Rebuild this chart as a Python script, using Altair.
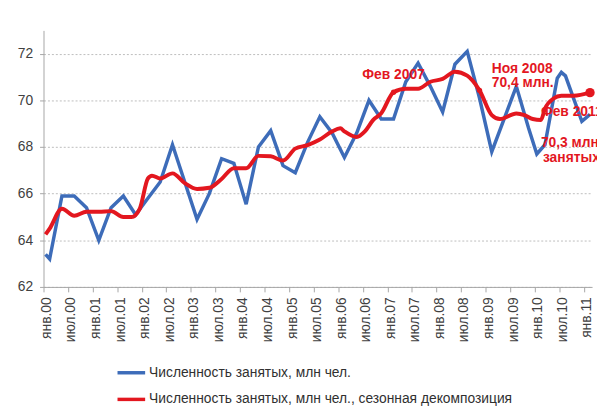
import altair as alt
import pandas as pd

# ---- data ----
blue_name = "Численность занятых, млн чел."
red_name = "Численность занятых, млн чел., сезонная декомпозиция"

blue_dates = ["2000-01", "2000-02", "2000-05", "2000-08", "2000-11",
              "2001-02", "2001-05", "2001-08", "2001-11",
              "2002-02", "2002-05", "2002-08", "2002-11",
              "2003-02", "2003-05", "2003-08", "2003-11",
              "2004-02", "2004-05", "2004-08", "2004-11",
              "2005-02", "2005-05", "2005-08", "2005-11",
              "2006-02", "2006-05", "2006-08", "2006-11",
              "2007-02", "2007-05", "2007-08", "2007-11",
              "2008-02", "2008-05", "2008-08", "2008-11",
              "2009-02", "2009-05", "2009-08", "2009-11",
              "2010-01", "2010-03", "2010-06", "2010-07", "2010-08", "2010-12",
              "2011-02"]
blue_values = [63.4, 63.2, 65.9, 65.9, 65.4,
               64.0, 65.4, 65.9, 65.1,
               65.8, 66.5, 68.1, 66.5,
               64.9, 66.0, 67.5, 67.3,
               65.55, 68.0, 68.7, 67.2,
               66.9, 68.2, 69.3, 68.6,
               67.55, 68.6, 70.0, 69.2,
               69.2, 70.8, 71.6, 70.6,
               69.5, 71.55, 72.1, 70.1,
               67.8, 69.2, 70.6, 68.8,
               67.7, 68.1, 70.95, 71.2, 71.05, 69.1,
               69.4]

red_dates = ["2000-01", "2000-02", "2000-05", "2000-08", "2000-11",
             "2001-02", "2001-05", "2001-08", "2001-10", "2001-12",
             "2002-02", "2002-03", "2002-05", "2002-08", "2002-11",
             "2003-02", "2003-05", "2003-08", "2003-11",
             "2004-02", "2004-05", "2004-08", "2004-11",
             "2005-02", "2005-05", "2005-08", "2005-11",
             "2006-01", "2006-02", "2006-05", "2006-07", "2006-09", "2006-11",
             "2007-02", "2007-05", "2007-08", "2007-11",
             "2008-02", "2008-05", "2008-08", "2008-11",
             "2009-02", "2009-04", "2009-08", "2009-10", "2009-12",
             "2010-02", "2010-03", "2010-05", "2010-07", "2010-10",
             "2011-02"]
red_values = [64.25, 64.5, 65.35, 65.05, 65.22,
              65.22, 65.25, 65.0, 65.0, 65.35,
              66.65, 66.77, 66.65, 66.87, 66.45,
              66.2, 66.25, 66.63, 67.09,
              67.09, 67.62, 67.6, 67.42,
              67.93, 68.08, 68.32, 68.67,
              68.8, 68.67, 68.43, 68.67, 69.15, 69.45,
              70.35, 70.5, 70.5, 70.8,
              70.92, 71.23, 71.06, 70.43,
              69.37, 69.2, 69.44, 69.37, 69.2,
              69.16, 69.65, 70.07, 70.2, 70.2,
              70.33]

marker_dates = ["2007-02", "2008-11"]
marker_values = [70.35, 70.43]
end_dates = ["2011-02"]
end_values = [70.33]

# centred annotation
c_texts = ["Фев 2007"]
c_month = [85.5]
c_values = [71.1]
# left-aligned annotations
l_texts = ["Ноя 2008", "70,4 млн.", "Фев 2011", "70,3 млн", "занятых"]
l_month = [109.5, 109.5, 121.5, 121.5, 122.0]
l_values = [71.34, 70.73, 69.51, 68.17, 67.53]

tick_labels = ["янв.00", "июл.00", "янв.01", "июл.01", "янв.02", "июл.02",
               "янв.03", "июл.03", "янв.04", "июл.04", "янв.05", "июл.05",
               "янв.06", "июл.06", "янв.07", "июл.07", "янв.08", "июл.08",
               "янв.09", "июл.09", "янв.10", "июл.10", "янв.11"]
y_ticks = [62, 64, 66, 68, 70, 72]

BLUE = "#3d6cb9"
RED = "#e3171f"
FONT = "Liberation Sans"


def month_index(d):
    y, m = d.split("-")
    return (int(y) - 2000) * 12 + int(m) - 1 + 0.5


blue_df = pd.DataFrame({"m": [month_index(d) for d in blue_dates],
                        "v": blue_values, "s": blue_name})
red_df = pd.DataFrame({"m": [month_index(d) for d in red_dates],
                       "v": red_values, "s": red_name})
mark_df = pd.DataFrame({"m": [month_index(d) for d in marker_dates], "v": marker_values})
end_df = pd.DataFrame({"m": [month_index(d) for d in end_dates], "v": end_values})
c_df = pd.DataFrame({"m": c_month, "v": c_values, "t": c_texts})
l_df = pd.DataFrame({"m": l_month, "v": l_values, "t": l_texts})

label_js = "[" + ",".join("'" + t + "'" for t in tick_labels) + "]"

x_enc = alt.X("m:Q",
              scale=alt.Scale(domain=[0, 134], nice=False, zero=False),
              axis=alt.Axis(values=[i * 6 for i in range(len(tick_labels))],
                            labelExpr=label_js + "[round(datum.value / 6)]",
                            labelAngle=270, labelFontSize=14, labelColor="#404040",
                            labelFont=FONT, labelPadding=5, labelOffset=3,
                            tickSize=5, tickColor="#a6a6a6", domainColor="#a6a6a6",
                            grid=False, title=None, labelOverlap=False,
                            labelFlush=False, labelBound=False))
y_enc = alt.Y("v:Q",
              scale=alt.Scale(domain=[62, 73], nice=False, zero=False),
              axis=alt.Axis(values=y_ticks, labelFontSize=14, labelColor="#404040",
                            labelFont=FONT, labelPadding=7, tickSize=4,
                            tickColor="#a6a6a6", domainColor="#a6a6a6",
                            grid=True, gridColor="#bdbdbd", gridDash=[2, 2],
                            gridWidth=1, title=None))

color_scale = alt.Scale(domain=[blue_name, red_name], range=[BLUE, RED])
legend = alt.Legend(orient="none", legendX=73, legendY=331, direction="vertical",
                    title=None, symbolType="stroke", symbolSize=784,
                    symbolStrokeWidth=3.5, labelFontSize=14, labelFont=FONT,
                    labelColor="#303030", labelLimit=700, labelOffset=2,
                    rowPadding=4)
color_enc = alt.Color("s:N", scale=color_scale, legend=legend)

blue_line = alt.Chart(blue_df).mark_line(strokeWidth=3.5).encode(
    x=x_enc, y=y_enc, color=color_enc)
red_line = alt.Chart(red_df).mark_line(strokeWidth=4, interpolate="monotone").encode(
    x=x_enc, y=y_enc, color=color_enc)
dots = alt.Chart(mark_df).mark_circle(color=RED, size=30, opacity=1).encode(x=x_enc, y=y_enc)
end_dot = alt.Chart(end_df).mark_circle(color=RED, size=90, opacity=1).encode(x=x_enc, y=y_enc)
ann_c = alt.Chart(c_df).mark_text(color=RED, fontSize=14, fontWeight="bold", font=FONT,
                                  baseline="middle", align="center").encode(
    x=x_enc, y=y_enc, text="t:N")
ann_l = alt.Chart(l_df).mark_text(color=RED, fontSize=14, fontWeight="bold", font=FONT,
                                  baseline="middle", align="left").encode(
    x=x_enc, y=y_enc, text="t:N")

chart = alt.layer(blue_line, red_line, dots, end_dot, ann_c, ann_l).properties(
    width=556, height=260, background="white",
    autosize=alt.AutoSizeParams(type="none"),
    padding={"left": 36, "top": 20, "right": 5, "bottom": 119},
).configure_view(stroke=None).configure_axisX(labelOverlap=False)

chart.save("out.html", embed_options={"renderer": "svg", "actions": False})
